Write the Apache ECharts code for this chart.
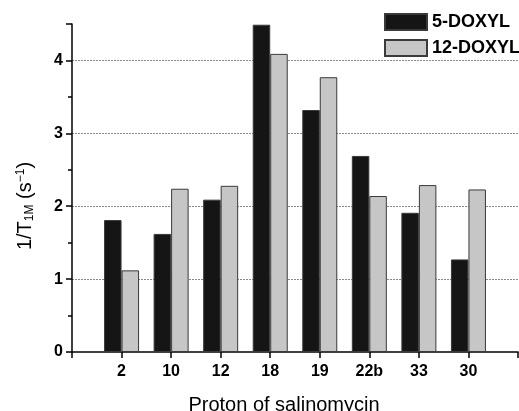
<!DOCTYPE html>
<html>
<head>
<meta charset="utf-8">
<script src="https://cdn.jsdelivr.net/npm/echarts@6/dist/echarts.min.js"></script>
<style>
  html, body { margin: 0; padding: 0; background: #fff; }
  #main { width: 519px; height: 411px; }
</style>
</head>
<body>
<div id="main"></div>
<script>
// 质子编号
var categories = ['2', '10', '12', '18', '19', '22b', '33', '30'];
// 两组数据
var doxyl5 = [1.81, 1.62, 2.09, 4.49, 3.32, 2.69, 1.91, 1.27];
var doxyl12 = [1.12, 2.24, 2.28, 4.09, 3.77, 2.14, 2.29, 2.23];

// 轴两端留空位
var axisCats = [''].concat(categories, ['']);
function pad(arr) { return [null].concat(arr, [null]); }

var chart = echarts.init(document.getElementById('main'));

var font = 'Liberation Sans, Arial, sans-serif';

var option = {
  animation: false,
  textStyle: { fontFamily: font },
  grid: { left: 72, right: 1, top: 24, bottom: 59, outerBoundsMode: 'none', containLabel: false },
  legend: {
    orient: 'vertical',
    left: 384,
    top: 13,
    padding: 0,
    itemWidth: 42,
    itemHeight: 16,
    itemGap: 8,
    icon: 'rect',
    textStyle: { fontSize: 18, fontWeight: 'bold', color: '#000', fontFamily: font },
    data: ['5-DOXYL', '12-DOXYL']
  },
  xAxis: {
    type: 'category',
    data: axisCats,
    boundaryGap: false,
    name: 'Proton of salinomycin',
    nameLocation: 'middle',
    nameGap: 43,
    nameTextStyle: { fontSize: 20, color: '#000', fontFamily: font, padding: [0, 22, 0, 0] },
    axisLine: { lineStyle: { color: '#000', width: 1.5 } },
    axisTick: { show: true, length: 6, inside: false, lineStyle: { color: '#000', width: 1.5 } },
    axisLabel: { fontSize: 16, fontWeight: 'bold', color: '#000', margin: 12 },
    splitLine: { show: false }
  },
  yAxis: {
    type: 'value',
    min: 0,
    max: 4.5,
    interval: 1,
    name: '1/T{sub|1M} (s{sup|−1})',
    nameLocation: 'middle',
    nameGap: 36,
    nameRotate: 90,
    nameTextStyle: {
      fontSize: 20, color: '#000', fontFamily: font,
      padding: [0, 36, 0, 0],
      rich: {
        sub: { fontSize: 12, verticalAlign: 'bottom', padding: [9, 0, 0, 0], color: '#000' },
        sup: { fontSize: 12, verticalAlign: 'top', padding: [0, 0, 9, 0], color: '#000' }
      }
    },
    axisLine: { show: true, lineStyle: { color: '#000', width: 1.5 } },
    axisTick: { show: true, length: 6, lineStyle: { color: '#000', width: 1.5 } },
    minorTick: { show: true, splitNumber: 2, length: 4, lineStyle: { color: '#000', width: 1.5 } },
    axisLabel: { fontSize: 16, fontWeight: 'bold', color: '#000', margin: 9, showMaxLabel: false },
    splitLine: { show: true, showMinLine: false, showMaxLine: false, lineStyle: { color: '#8a8a8a', type: [2, 1], width: 1 } }
  },
  series: [
    {
      name: '5-DOXYL',
      type: 'bar',
      data: pad(doxyl5),
      barWidth: 17.5,
      barGap: '0%',
      itemStyle: { color: '#151515', borderColor: '#3a3a3a', borderWidth: 1 }
    },
    {
      name: '12-DOXYL',
      type: 'bar',
      data: pad(doxyl12),
      barWidth: 17.5,
      barGap: '0%',
      itemStyle: { color: '#c6c6c6', borderColor: '#3a3a3a', borderWidth: 1 }
    }
  ]
};

chart.setOption(option);
</script>
</body>
</html>
